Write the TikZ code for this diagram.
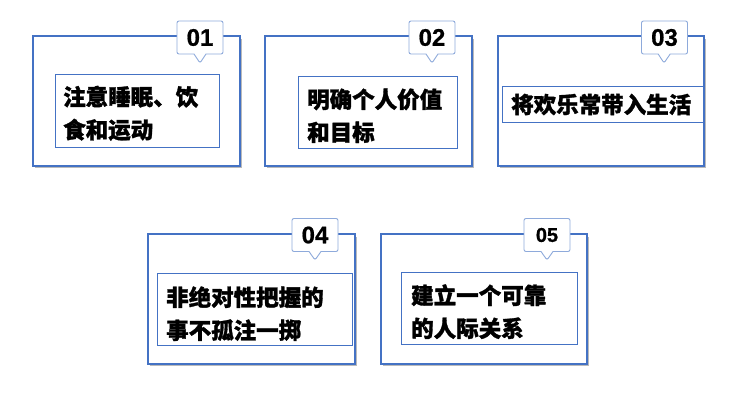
\documentclass[tikz,border=0pt]{standalone}
\usepackage{fontspec}
\newfontfamily\cjk{Noto Sans CJK SC}[BoldFeatures={FakeBold=1.3}]
\newfontfamily\numfont{Liberation Sans}[BoldFeatures={FakeBold=0.8}]
\usetikzlibrary{shapes.callouts,shadows}
\definecolor{frameblue}{HTML}{4472C4}
\definecolor{callblue}{HTML}{8EAADB}
\tikzset{
  frame/.style={draw=frameblue,line width=2.3pt,fill=white,inner sep=0pt,
    minimum width=206.5pt,minimum height=129.5pt,
    drop shadow={shadow xshift=1.8pt,shadow yshift=-2.6pt,fill=black!60,opacity=0.45}},
  innerbox/.style={draw=frameblue,line width=0.9pt,fill=white,inner sep=0pt},
  label/.style={anchor=west,inner sep=0pt,align=left,
    font=\cjk\bfseries\fontsize{22.5}{33}\selectfont},
  numtag/.style={rectangle callout,draw=callblue,line width=0.9pt,fill=white,
    rounded corners=2pt,inner sep=0pt,minimum width=46pt,minimum height=33pt,
    callout pointer width=12pt,font=\numfont\bfseries\fontsize{24}{24}\selectfont}
}
\begin{document}
\begin{tikzpicture}[x=1pt,y=-1pt]
\useasboundingbox[fill=white] (0,0) rectangle (733,400);
% frames
\node[frame] (f1) at (136.5,101) {};
\node[frame] (f2) at (368.5,101) {};
\node[frame] (f3) at (601,101) {};
\node[frame] (f4) at (251.5,299) {};
\node[frame] (f5) at (484,299) {};
% inner boxes
\node[innerbox,minimum width=164pt,minimum height=73pt] (b1) at (137,110.5) {};
\node[innerbox,minimum width=159pt,minimum height=72pt] (b2) at (377.5,112) {};
\node[innerbox,minimum width=201pt,minimum height=36pt] (b3) at (602.5,104) {};
\node[innerbox,minimum width=195pt,minimum height=72pt] (b4) at (254.5,309) {};
\node[innerbox,minimum width=176pt,minimum height=72pt] (b5) at (489,308) {};
% texts
\node[label] (t1) at (63,113.3) {注意睡眠、饮\\食和运动};
\node[label] (t2) at (307,115.8) {明确个人价值\\和目标};
\node[label] (t3) at (511,104.5) {将欢乐常带入生活};
\node[label] (t4) at (166,313.7) {非绝对性把握的\\事不孤注一掷};
\node[label] (t5) at (411,311.7) {建立一个可靠\\的人际关系};
% number tags
\node[numtag,callout absolute pointer={(200,63)}] (c1) at (200,37.5) {01};
\node[numtag,callout absolute pointer={(432,63)}] (c2) at (432,37.5) {02};
\node[numtag,callout absolute pointer={(664,63)}] (c3) at (664.5,37.5) {03};
\node[numtag,callout absolute pointer={(315,260)}] (c4) at (315,235) {04};
\node[numtag,callout absolute pointer={(547,260)},font=\numfont\bfseries\fontsize{20}{20}\selectfont] (c5) at (547,235) {05};
\end{tikzpicture}
\end{document}
